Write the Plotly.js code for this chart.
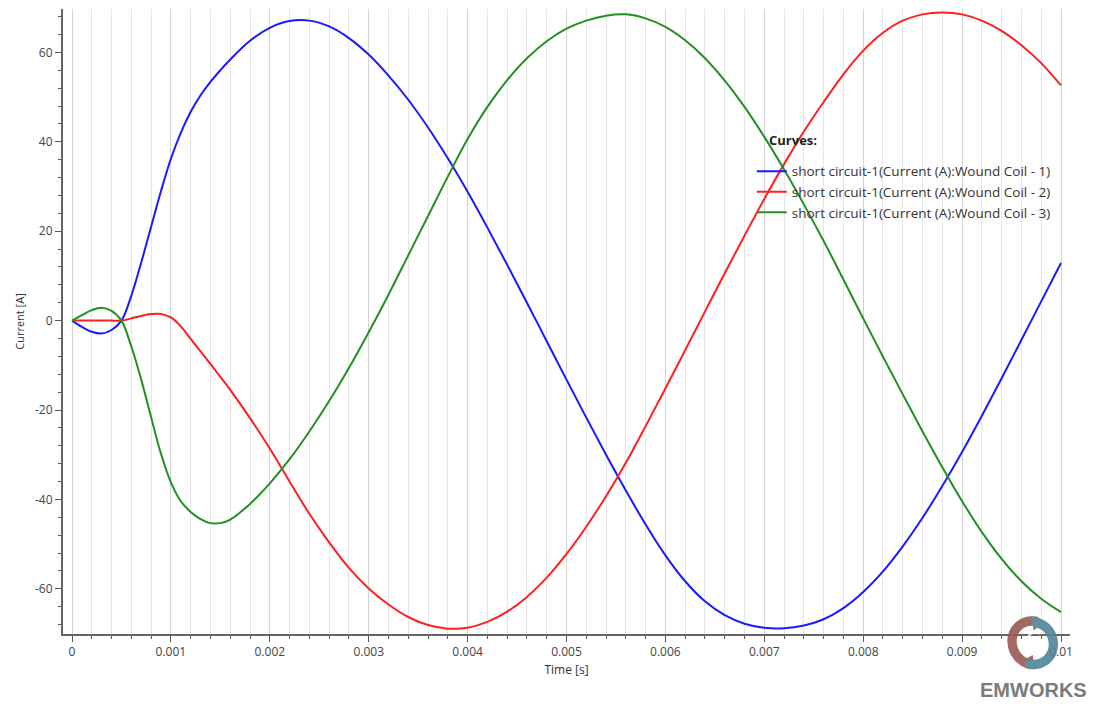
<!DOCTYPE html>
<html>
<head>
<meta charset="utf-8">
<script src="https://cdn.plot.ly/plotly-3.0.1.min.js"></script>
<style>
  html, body { margin: 0; padding: 0; background: #ffffff; }
  #chart { width: 1096px; height: 704px; }
</style>
</head>
<body>
<div id="chart"></div>
<script>
// ---- data ----
const timeS = [0, 0.0001, 0.0002, 0.0003, 0.0004, 0.0005, 0.0006, 0.0007, 0.0008, 0.0009,
  0.001, 0.0011, 0.0012, 0.0013, 0.0014, 0.0015, 0.0016, 0.0018, 0.002, 0.0022,
  0.0024, 0.0026, 0.0028, 0.003, 0.0032, 0.0034, 0.0036, 0.0038, 0.004, 0.0042,
  0.0044, 0.0046, 0.0048, 0.005, 0.0052, 0.0054, 0.0056, 0.0058, 0.006, 0.0062,
  0.0064, 0.0066, 0.0068, 0.007, 0.0072, 0.0074, 0.0076, 0.0078, 0.008, 0.0082,
  0.0084, 0.0086, 0.0088, 0.009, 0.0092, 0.0094, 0.0096, 0.0098, 0.01];

const coil1 = [0, -1.4, -2.5, -2.9, -2.1, 0, 5.6, 13.0, 21.0, 29.0,
  36.2, 42.0, 46.7, 50.4, 53.4, 56.0, 58.4, 62.6, 65.5, 67.0,
  67.1, 65.8, 63.2, 59.5, 54.8, 49.4, 43.2, 36.3, 28.8, 20.8,
  12.5, 4.0, -4.6, -13.2, -21.7, -30.0, -38.0, -45.6, -52.5, -58.3,
  -62.8, -65.9, -67.8, -68.7, -68.8, -68.2, -66.8, -64.3, -60.7, -56.1,
  -50.5, -44.1, -37.0, -29.4, -21.3, -12.9, -4.3, 4.3, 12.9];

const coil2 = [0, 0, 0, 0, 0, 0, 0.5, 1.05, 1.45, 1.5,
  0.7, -1.3, -4.1, -6.9, -9.7, -12.6, -15.5, -21.8, -28.6, -36.0,
  -43.2, -49.6, -55.3, -59.9, -63.5, -66.3, -68.1, -68.9, -68.7, -67.4,
  -65.1, -61.8, -57.5, -52.2, -46.1, -39.3, -31.8, -23.6, -15.2, -6.6,
  2.0, 10.6, 19.0, 27.2, 35.0, 42.3, 48.9, 55.1, 60.4, 64.4,
  67.1, 68.5, 68.9, 68.5, 67.1, 64.8, 61.6, 57.6, 52.6];

const coil3 = [0, 1.2, 2.35, 2.9, 2.2, 0, -5.8, -13.2, -21.6, -29.8,
  -36.2, -40.4, -42.8, -44.4, -45.3, -45.3, -44.5, -41.0, -36.4, -31.0,
  -24.8, -18.0, -10.6, -2.6, 5.8, 14.6, 23.4, 32.2, 40.6, 47.8,
  53.8, 58.7, 62.5, 65.3, 67.1, 68.2, 68.5, 67.6, 65.7, 62.7,
  58.7, 53.7, 47.8, 41.1, 33.8, 26.0, 17.8, 9.2, 0.5, -8.1,
  -16.5, -24.8, -32.8, -40.4, -47.3, -53.3, -58.3, -62.2, -65.2];

const seriesNames = [
  'short circuit-1(Current (A):Wound Coil - 1)',
  'short circuit-1(Current (A):Wound Coil - 2)',
  'short circuit-1(Current (A):Wound Coil - 3)'
];
const seriesColors = ['#1a1aff', '#ff1f1f', '#229022'];

const xTickVals = [0, 0.001, 0.002, 0.003, 0.004, 0.005, 0.006, 0.007, 0.008, 0.009, 0.01];
const xTickText = ['0', '0.001', '0.002', '0.003', '0.004', '0.005', '0.006', '0.007', '0.008', '0.009', '0.01'];
const yTickVals = [-60, -40, -20, 0, 20, 40, 60];
const yTickText = ['-60', '-40', '-20', '0', '20', '40', '60'];

// ---- traces ----
const seriesValues = [coil1, coil2, coil3];
const traces = seriesValues.map((vals, i) => ({
  x: timeS,
  y: vals,
  type: 'scatter',
  mode: 'lines',
  name: seriesNames[i],
  line: { color: seriesColors[i], width: 2, shape: 'spline', smoothing: 1.0 },
  hoverinfo: 'skip'
}));

// ---- logo (inline SVG, no network) ----
const logoSvg =
  "<svg xmlns='http://www.w3.org/2000/svg' viewBox='0 0 60 60'>" +
  "<path d='M33 7 C18 5 7 16 8 30 C9 42 17 50 26 53' stroke='#9a5a55' stroke-width='10' fill='none' stroke-linecap='round'/>" +
  "<polygon points='18,50 32,59 30,43' fill='#9a5a55'/>" +
  "<path d='M27 53 C42 55 53 44 52 30 C51 20 45 12 36 9' stroke='#4f8598' stroke-width='10' fill='none' stroke-linecap='round'/>" +
  "<polygon points='42,8 28,1 31,17' fill='#4f8598'/>" +
  "<path d='M38 20 C30 16 22 22 28 29 C34 35 27 42 20 39' stroke='#ffffff' stroke-width='3' fill='none' opacity='0.85'/>" +
  "</svg>";
const logoSrc = 'data:image/svg+xml;charset=utf-8,' + encodeURIComponent(logoSvg);

const fontFamily = '"Open Sans", "Noto Sans", "DejaVu Sans", sans-serif';

const layout = {
  width: 1096,
  height: 704,
  margin: { l: 63, r: 26, t: 9, b: 70 },
  paper_bgcolor: '#ffffff',
  plot_bgcolor: '#ffffff',
  font: { family: fontFamily, size: 12, color: '#444444' },
  showlegend: true,
  hovermode: false,
  legend: {
    x: 0.684, y: 0.765, xanchor: 'left', yanchor: 'top',
    bgcolor: 'rgba(0,0,0,0)',
    borderwidth: 0,
    font: { family: fontFamily, size: 13.5, color: '#333333' },
    tracegroupgap: 0,
    itemwidth: 30
  },
  xaxis: {
    range: [-0.000091, 0.010091],
    tickmode: 'array',
    tickvals: xTickVals,
    ticktext: xTickText,
    ticks: 'outside',
    ticklen: 6,
    tickwidth: 1,
    tickcolor: '#555555',
    showline: true,
    linecolor: '#666666',
    linewidth: 2,
    showgrid: true,
    gridcolor: '#d4d4d4',
    gridwidth: 1,
    zeroline: false,
    tickfont: { family: fontFamily, size: 12, color: '#444444' },
    title: { text: 'Time [s]', standoff: 6, font: { family: fontFamily, size: 12, color: '#333333' } },
    minor: {
      dtick: 0.0002,
      tick0: 0,
      ticks: 'outside',
      ticklen: 3,
      tickcolor: '#555555',
      showgrid: true,
      gridcolor: '#e6e6e6',
      gridwidth: 1
    }
  },
  yaxis: {
    range: [-70.1, 69.7],
    tickmode: 'array',
    tickvals: yTickVals,
    ticktext: yTickText,
    ticks: 'outside',
    ticklen: 6,
    tickwidth: 1,
    tickcolor: '#555555',
    showline: true,
    linecolor: '#666666',
    linewidth: 2,
    showgrid: false,
    zeroline: false,
    tickfont: { family: fontFamily, size: 12, color: '#444444' },
    title: { text: 'Current [A]', standoff: 8, font: { family: fontFamily, size: 11, color: '#333333' } },
    minor: {
      dtick: 4,
      tick0: 0,
      ticks: 'outside',
      ticklen: 3,
      tickcolor: '#555555',
      showgrid: false
    }
  },
  images: [{
    source: logoSrc,
    xref: 'paper', yref: 'paper',
    x: 0.963, y: -0.014,
    sizex: 0.056, sizey: 0.09,
    xanchor: 'center', yanchor: 'middle',
    sizing: 'contain',
    opacity: 0.9,
    layer: 'above'
  }],
  annotations: [
    {
      text: '<b>Curves:</b>',
      xref: 'paper', yref: 'paper',
      x: 0.699, y: 0.79,
      xanchor: 'left', yanchor: 'middle',
      showarrow: false,
      font: { family: fontFamily, size: 13, color: '#222222' }
    },
    {
      text: '<b>EMWORKS</b>',
      xref: 'paper', yref: 'paper',
      x: 0.964, y: -0.09,
      xanchor: 'center', yanchor: 'middle',
      showarrow: false,
      font: { family: '"Liberation Sans", Arial, sans-serif', size: 20, color: '#7b7b7b' }
    }
  ]
};

Plotly.newPlot('chart', traces, layout, { displayModeBar: false, staticPlot: true });
</script>
</body>
</html>
